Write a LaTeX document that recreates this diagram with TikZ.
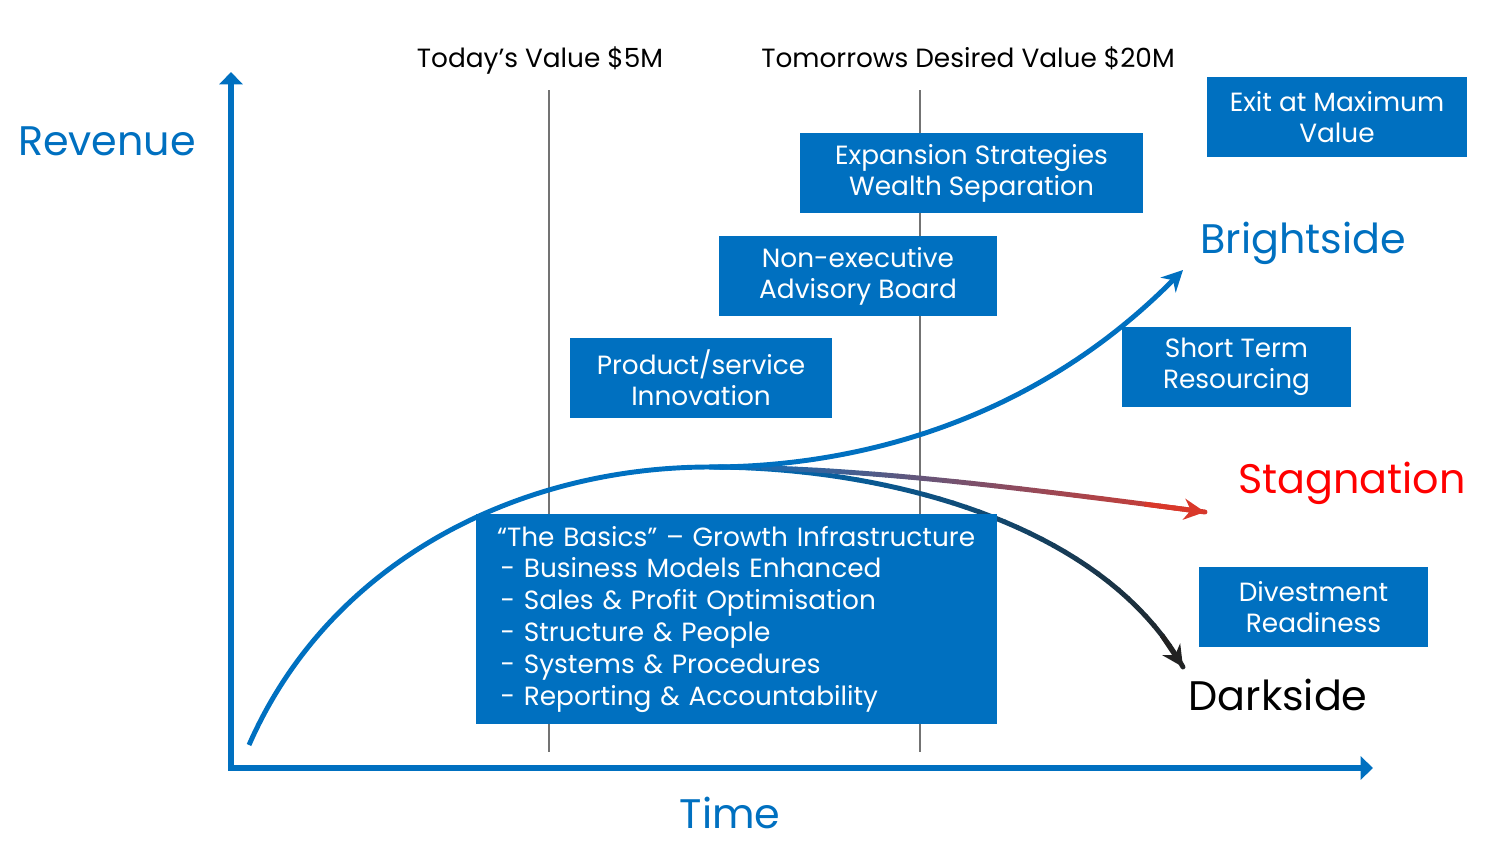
\documentclass[tikz,border=0pt]{standalone}
\usepackage{fontspec}
\setmainfont{Poppins}
\usetikzlibrary{arrows.meta}
\definecolor{brandblue}{RGB}{0,112,192}
\definecolor{stagred}{RGB}{217,56,42}
\definecolor{darkend}{RGB}{34,34,34}
\definecolor{alertred}{RGB}{255,0,0}
\tikzset{
  infobox/.style={fill=brandblue, text=white, align=center, inner sep=0pt,
    minimum height=1.6cm, font=\fontsize{15}{17.6}\selectfont},
  biglabel/.style={font=\fontsize{23.5}{28}\selectfont},
  headlabel/.style={font=\fontsize{15}{18}\selectfont, anchor=base},
  curve/.style={line width=2.8pt},
  axis/.style={brandblue, line width=3.4pt, -{Triangle[length=7pt,width=13pt]}},
}
\begin{document}
\begin{tikzpicture}[x=0.02cm, y=-0.02cm]
\useasboundingbox (0,0) rectangle (1500,842);

\coordinate (origin) at (231,768);
\coordinate (ytip) at (231,72);
\coordinate (xtip) at (1373,768);
\coordinate (nowtop) at (549,90);
\coordinate (nowbot) at (549,752);
\coordinate (goaltop) at (920,90);
\coordinate (goalbot) at (920,752);

\draw [gray!90!black, line width=0.8pt] (nowtop) -- (nowbot);
\draw [gray!90!black, line width=0.8pt] (goaltop) -- (goalbot);
\draw [axis] ([xshift=-1.7pt]origin) -- (xtip);
\draw [axis] (origin) -- (ytip);

\node [biglabel, text=brandblue] (revenue) at (107,141) {Revenue};
\node [biglabel, text=brandblue] (time) at (730,813) {Time};
\node [headlabel] (today) at (540,67) {Today’s Value \$5M};
\node [headlabel] (tomorrow) at (968,67) {Tomorrows Desired Value \$20M};

\coordinate (start) at (249,745);
\coordinate (peak) at (710,467);
\coordinate (bright) at (1183,270);
\coordinate (stag) at (1205,512);
\coordinate (dark) at (1183,667);

\foreach \i in {0,...,40} {
  \path (peak) .. controls (850,467) and (1000,485) .. (stag) coordinate[pos=\i/40] (s\i);
  \path (peak) .. controls (880,467) and (1100,520) .. (dark) coordinate[pos=\i/40] (d\i);
}
\foreach \i [evaluate=\i as \j using int(\i+1), evaluate=\i as \p using 2.5*\i] in {0,...,39} {
  \draw [curve, line cap=round, stagred!\p!brandblue] (s\i) -- (s\j);
  \draw [curve, line cap=round, darkend!\p!brandblue] (d\i) -- (d\j);
}
\draw [curve, stagred, -{Stealth[length=12pt,width=12pt]}] (s36) -- (stag);
\draw [curve, darkend, -{Stealth[length=12pt,width=12pt]}] (d37) -- (dark);

\draw [curve, brandblue] (start) .. controls (330,560) and (520,467) .. (peak);
\draw [curve, brandblue, -{Stealth[length=12pt,width=12pt]}]
  (peak) .. controls (850,467) and (1030,425) .. (bright);

\node [infobox, minimum width=5.2cm] (exit) at (1337,117) {Exit at Maximum\\Value};
\node [infobox, minimum width=6.86cm] (expand) at (971.5,173) {Expansion Strategies\\Wealth Separation};
\node [infobox, minimum width=5.56cm] (advisory) at (858,276) {Non-executive\\Advisory Board};
\node [infobox, minimum width=5.24cm] (innovate) at (701,378) {Product/service\\Innovation};
\node [infobox, minimum width=4.58cm] (resource) at (1236.5,367) {Short Term\\Resourcing};
\node [infobox, minimum width=4.58cm] (divest) at (1313.5,607) {Divestment\\Readiness};
\node [infobox, align=left, text width=9.58cm, minimum width=10.42cm, minimum height=4.2cm,
  font=\fontsize{15}{18.1}\selectfont] (basics) at (736.5,619)
  {“The Basics” – Growth Infrastructure\\
   \hspace{2pt}- Business Models Enhanced\\
   \hspace{2pt}- Sales \& Profit Optimisation\\
   \hspace{2pt}- Structure \& People\\
   \hspace{2pt}- Systems \& Procedures\\
   \hspace{2pt}- Reporting \& Accountability};

\node [biglabel, text=brandblue] (brightside) at (1303,243) {Brightside};
\node [biglabel, text=alertred] (stagnation) at (1352,483) {Stagnation};
\node [biglabel] (darkside) at (1278,695) {Darkside};
\end{tikzpicture}
\end{document}
